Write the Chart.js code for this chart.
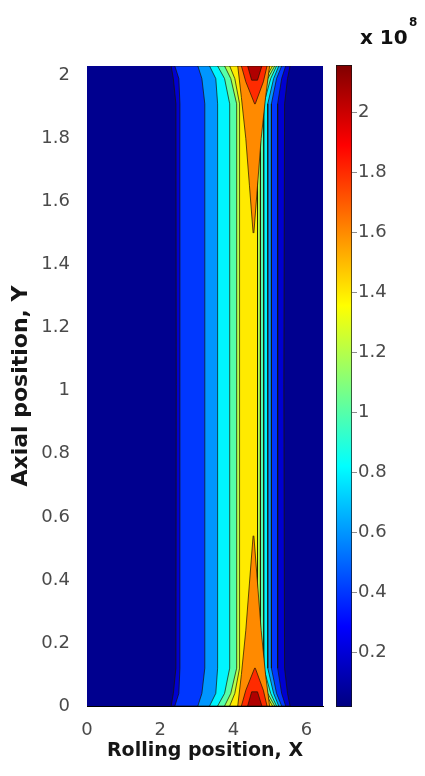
<!DOCTYPE html>
<html>
<head>
<meta charset="utf-8">
<title>Rolling contact field</title>
<script src="https://cdn.jsdelivr.net/npm/chart.js@4/dist/chart.umd.min.js"></script>
<style>
  body { margin: 0; background: #fff; width: 425px; height: 776px; position: relative; overflow: hidden; }
  canvas { position: absolute; top: 0; }
  #plot { left: 0; }
  #colorbar { left: 330px; }
  .expo { position: absolute; font-family: "DejaVu Sans", sans-serif; font-weight: bold; color: #111; line-height: 1; }
  #expoBase { left: 360px; top: 27px; font-size: 20px; }
  #expoPow { left: 409px; top: 16px; font-size: 12px; }
</style>
</head>
<body>
<canvas id="plot" width="330" height="776"></canvas>
<canvas id="colorbar" width="95" height="776"></canvas>
<div class="expo" id="expoBase">x 10</div>
<div class="expo" id="expoPow">8</div>
<script>
// axis extents and ticks
const xMax = 6.45;
const yMax = 2.03;
const xTicks = [0, 2, 4, 6];
const yTicks = [0, 0.2, 0.4, 0.6, 0.8, 1, 1.2, 1.4, 1.6, 1.8, 2];

// contour levels that run the full height of the strip
const levels = [0.2, 0.4, 0.6, 0.8, 1.0, 1.2, 1.4];
const rowsY = [0, 0.04, 0.12, 1.02, 1.91, 1.99, 2.03];
const leftX = [
  [2.30, 2.36, 2.43, 2.44, 2.43, 2.36, 2.30],
  [2.40, 2.51, 2.54, 2.54, 2.54, 2.51, 2.40],
  [3.03, 3.14, 3.22, 3.22, 3.22, 3.14, 3.03],
  [3.35, 3.52, 3.57, 3.57, 3.57, 3.52, 3.35],
  [3.57, 3.76, 3.90, 3.90, 3.90, 3.76, 3.57],
  [3.76, 3.93, 4.09, 4.09, 4.09, 3.93, 3.76],
  [3.90, 4.04, 4.17, 4.17, 4.17, 4.04, 3.90]
];
const rightX = [
  [5.55, 5.48, 5.40, 5.38, 5.40, 5.48, 5.55],
  [5.43, 5.32, 5.21, 5.21, 5.21, 5.32, 5.43],
  [5.32, 5.18, 5.04, 5.04, 5.04, 5.18, 5.32],
  [5.24, 5.10, 4.94, 4.94, 4.94, 5.10, 5.24],
  [5.18, 5.02, 4.83, 4.83, 4.83, 5.02, 5.18],
  [5.13, 4.94, 4.74, 4.74, 4.74, 4.94, 5.13],
  [5.07, 4.88, 4.66, 4.66, 4.66, 4.88, 5.07]
];

// high levels only show up as wedges at both ends of the strip
const capLevels = [1.6, 1.8, 2.0];
const capTopY = [[1.50, 1.65, 1.80, 1.93, 2.03], [1.91, 1.98, 2.03], [1.985, 2.03]];
const capBottomY = [[0.54, 0.39, 0.24, 0.10, 0], [0.12, 0.05, 0], [0.045, 0]];
const capLeftX = [[4.54, 4.44, 4.34, 4.22, 4.12], [4.58, 4.34, 4.22], [4.50, 4.39]];
const capRightX = [[4.56, 4.66, 4.76, 4.88, 4.99], [4.60, 4.82, 4.92], [4.66, 4.78]];

// colour bar range (x 10^8)
const cMin = 0.017;
const cMax = 2.157;

// jet colours
const fieldColor = '#00008f';
const bandColors = ['#0000d0', '#0037ff', '#0096ff', '#00f5ff', '#56ffa9', '#b6ff49', '#ffea00'];
const capColors = ['#ff8a00', '#ff2b00', '#b00000'];
const jetStops = [0, 0.125, 0.375, 0.625, 0.875, 1];
const jetColors = ['#000080', '#0000ff', '#00ffff', '#ffff00', '#ff0000', '#800000'];

const lineColor = 'rgba(25,20,0,0.7)';
const tickFont = { family: '"DejaVu Sans", sans-serif', size: 18 };
const tickColor = '#4a4a4a';

// closed outline: up the left edge, back down the right edge
function outline(ys, lx, rx) {
  const pts = ys.map((y, i) => ({ x: lx[i], y: y }));
  for (let i = ys.length - 1; i >= 0; i--) pts.push({ x: rx[i], y: ys[i] });
  pts.push(pts[0]);
  return pts;
}

const pieces = [];
pieces.push({ pts: outline([0, yMax], [0, 0], [xMax, xMax]), color: fieldColor, edge: 0 });
levels.forEach((lv, i) => {
  pieces.push({ pts: outline(rowsY, leftX[i], rightX[i]), color: bandColors[i], edge: 1 });
});
capLevels.forEach((lv, i) => {
  pieces.push({ pts: outline(capBottomY[i], capLeftX[i], capRightX[i]), color: capColors[i], edge: 1 });
  pieces.push({ pts: outline(capTopY[i], capLeftX[i], capRightX[i]), color: capColors[i], edge: 1 });
});

const datasets = pieces.map((p, i) => ({
  data: p.pts,
  backgroundColor: p.color,
  borderColor: lineColor,
  borderWidth: p.edge,
  fill: 'shape',
  tension: 0,
  pointRadius: 0,
  pointHoverRadius: 0,
  order: -i // later (higher) levels paint on top
}));

new Chart(document.getElementById('plot'), {
  type: 'line',
  data: { datasets: datasets },
  options: {
    responsive: false,
    animation: false,
    devicePixelRatio: 1,
    events: [],
    layout: { padding: { left: 0, right: 7, top: 66, bottom: 0 } },
    plugins: { legend: { display: false }, tooltip: { enabled: false } },
    scales: {
      x: {
        type: 'linear',
        min: 0,
        max: xMax,
        afterBuildTicks: (s) => { s.ticks = xTicks.map((v) => ({ value: v })); },
        afterFit: (s) => { s.height = 70; },
        grid: { display: false },
        border: { display: true, color: '#000' },
        ticks: { font: tickFont, color: tickColor, padding: 6, maxRotation: 0, callback: (v) => String(v) },
        title: {
          display: true,
          text: 'Rolling position, X',
          color: '#161616',
          font: { family: '"DejaVu Sans", sans-serif', size: 19, weight: 'bold' },
          padding: { top: 0, bottom: 14 }
        }
      },
      y: {
        type: 'linear',
        min: 0,
        max: yMax,
        afterBuildTicks: (s) => { s.ticks = yTicks.map((v) => ({ value: v })); },
        afterFit: (s) => { s.width = 87; },
        grid: { display: false },
        border: { display: true, color: '#000' },
        ticks: { font: tickFont, color: tickColor, padding: 9, callback: (v) => String(v) },
        title: {
          display: true,
          text: 'Axial position, Y',
          color: '#161616',
          font: { family: '"DejaVu Sans", sans-serif', size: 22, weight: 'bold' },
          padding: { top: 8, bottom: 0 }
        }
      }
    }
  }
});

// colour bar: one floating bar painted with the jet ramp
function jetFill(c) {
  const chart = c.chart;
  const area = chart.chartArea;
  if (!area) return jetColors[0];
  const g = chart.ctx.createLinearGradient(0, area.bottom, 0, area.top);
  jetStops.forEach((s, i) => g.addColorStop(s, jetColors[i]));
  return g;
}

new Chart(document.getElementById('colorbar'), {
  type: 'bar',
  data: {
    labels: [''],
    datasets: [{
      data: [[cMin, cMax]],
      backgroundColor: jetFill,
      borderColor: '#111',
      borderWidth: 1,
      borderSkipped: false,
      barPercentage: 1,
      categoryPercentage: 1
    }]
  },
  options: {
    responsive: false,
    animation: false,
    devicePixelRatio: 1,
    events: [],
    layout: { padding: { left: 6, right: 0, top: 65, bottom: 69 } },
    plugins: { legend: { display: false }, tooltip: { enabled: false } },
    scales: {
      x: { display: false },
      y: {
        position: 'right',
        min: cMin,
        max: cMax,
        z: 1,
        afterBuildTicks: (s) => { s.ticks = yTicks.slice(1).map((v) => ({ value: v })); },
        afterFit: (s) => { s.width = 73; },
        grid: { drawOnChartArea: true, drawTicks: true, tickLength: 5, color: 'rgba(0,0,0,0.45)' },
        border: { display: false },
        ticks: { font: tickFont, color: tickColor, padding: 1, callback: (v) => String(v) }
      }
    }
  }
});
</script>
</body>
</html>
